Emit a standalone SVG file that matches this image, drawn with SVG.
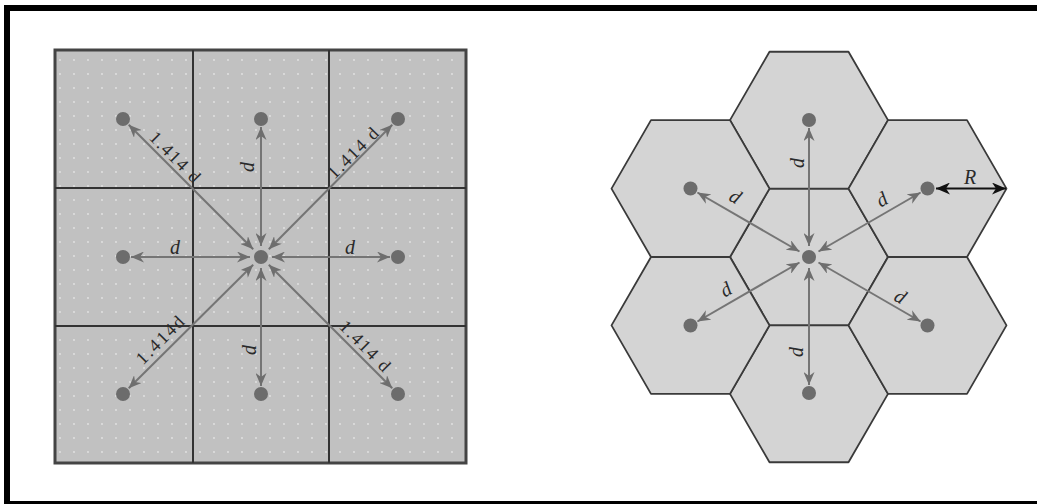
<svg xmlns="http://www.w3.org/2000/svg" width="1037" height="504" viewBox="0 0 1037 504">
<style>
.grid{fill:none;stroke:#333;stroke-width:2}
.hex{fill:#d4d4d4;stroke:#3a3a3a;stroke-width:1.8;stroke-linejoin:round}
.dot{fill:#6c6c6c}
.ar{stroke:#757575;stroke-width:2;fill:none;marker-start:url(#ah);marker-end:url(#ah)}
.lbl{font-family:"Liberation Serif",serif;font-size:18px;fill:#2a2a2a;text-anchor:middle}
.it{font-style:italic;font-size:20px}
</style>
<defs>
<marker id="ah" markerUnits="userSpaceOnUse" markerWidth="14" markerHeight="11" refX="13" refY="5.5" orient="auto-start-reverse" viewBox="0 0 14 11">
<path d="M0,0 L13,5.5 L0,11 L4,5.5 z" fill="#6e6e6e"/>
</marker>
<marker id="ahk" markerUnits="userSpaceOnUse" markerWidth="15" markerHeight="12" refX="14" refY="6" orient="auto-start-reverse" viewBox="0 0 15 12">
<path d="M0,0 L14,6 L0,12 L4,6 z" fill="#111"/>
</marker>
<pattern id="dots" width="14" height="14" patternUnits="userSpaceOnUse">
<rect width="14" height="14" fill="#c1c1c1"/>
<circle cx="4" cy="4" r="0.9" fill="#e4e4e4"/>
</pattern>
<polygon id="hexshape" points="79,0 39.5,68.42 -39.5,68.42 -79,0 -39.5,-68.42 39.5,-68.42"/>
</defs>
<rect x="7" y="8" width="1080" height="496" fill="#fff" stroke="#000" stroke-width="6"/>

<g id="square-grid">
<rect x="55" y="50" width="411" height="413" fill="url(#dots)" stroke="#444" stroke-width="3"/>
<line class="grid" x1="193" y1="50" x2="193" y2="463"/>
<line class="grid" x1="329" y1="50" x2="329" y2="463"/>
<line class="grid" x1="55" y1="188" x2="466" y2="188"/>
<line class="grid" x1="55" y1="326" x2="466" y2="326"/>
</g>
<g id="sq-dots">
<circle id="sq-tl" class="dot" cx="123" cy="119" r="7"/>
<circle id="sq-t" class="dot" cx="261" cy="119" r="7"/>
<circle id="sq-tr" class="dot" cx="398" cy="119" r="7"/>
<circle id="sq-l" class="dot" cx="123" cy="257" r="7"/>
<circle id="sq-c" class="dot" cx="261" cy="257" r="7"/>
<circle id="sq-r" class="dot" cx="398" cy="257" r="7"/>
<circle id="sq-bl" class="dot" cx="123" cy="394" r="7"/>
<circle id="sq-b" class="dot" cx="261" cy="394" r="7"/>
<circle id="sq-br" class="dot" cx="398" cy="394" r="7"/>
</g>

<g id="hex-cells">
<g id="hex-c"><use href="#hexshape" class="hex" x="809" y="257"/><circle class="dot" cx="809" cy="257" r="7"/></g>
<g id="hex-t"><use href="#hexshape" class="hex" x="809" y="120.16"/><circle class="dot" cx="809" cy="120" r="7"/></g>
<g id="hex-b"><use href="#hexshape" class="hex" x="809" y="393.84"/><circle class="dot" cx="809" cy="393" r="7"/></g>
<g id="hex-ul"><use href="#hexshape" class="hex" x="690.5" y="188.58"/><circle class="dot" cx="690.5" cy="188.5" r="7"/></g>
<g id="hex-ur"><use href="#hexshape" class="hex" x="927.5" y="188.58"/><circle class="dot" cx="927.5" cy="188.5" r="7"/></g>
<g id="hex-ll"><use href="#hexshape" class="hex" x="690.5" y="325.42"/><circle class="dot" cx="690.5" cy="325.5" r="7"/></g>
<g id="hex-lr"><use href="#hexshape" class="hex" x="927.5" y="325.42"/><circle class="dot" cx="927.5" cy="325.5" r="7"/></g>
</g>

<g id="connectors">
<line class="ar" x1="253.2" y1="249.2" x2="128.7" y2="124.7"/>
<line class="ar" x1="261" y1="246" x2="261" y2="127"/>
<line class="ar" x1="268.8" y1="249.2" x2="392.3" y2="124.7"/>
<line class="ar" x1="250" y1="257" x2="131" y2="257"/>
<line class="ar" x1="272" y1="257" x2="390" y2="257"/>
<line class="ar" x1="253.2" y1="264.8" x2="128.7" y2="388.3"/>
<line class="ar" x1="261" y1="268" x2="261" y2="386"/>
<line class="ar" x1="268.8" y1="264.8" x2="392.3" y2="388.3"/>

<line class="ar" x1="799.5" y1="251.5" x2="697.4" y2="192.5"/>
<line class="ar" x1="818.5" y1="251.5" x2="920.6" y2="192.5"/>
<line class="ar" x1="799.5" y1="262.5" x2="697.4" y2="321.5"/>
<line class="ar" x1="818.5" y1="262.5" x2="920.6" y2="321.5"/>
<line class="ar" x1="809" y1="246" x2="809" y2="128"/>
<line class="ar" x1="809" y1="268" x2="809" y2="385"/>
<line x1="936" y1="188.5" x2="1006" y2="188.5" stroke="#111" stroke-width="2.2" marker-start="url(#ahk)" marker-end="url(#ahk)"/>
</g>

<g id="labels">
<text class="lbl" transform="translate(175,157) rotate(45)" y="6" textLength="64" lengthAdjust="spacing">1.414 d</text>
<text class="lbl" transform="translate(353,153) rotate(-45)" y="6" textLength="64" lengthAdjust="spacing">1.414 d</text>
<text class="lbl" transform="translate(160,340) rotate(-45)" y="6" textLength="60" lengthAdjust="spacing">1.414d</text>
<text class="lbl" transform="translate(365,346) rotate(45)" y="6" textLength="64" lengthAdjust="spacing">1.414 d</text>
<text class="lbl it" x="175" y="254">d</text>
<text class="lbl it" x="350" y="254">d</text>
<text class="lbl it" transform="translate(248,167) rotate(-90)" y="6">d</text>
<text class="lbl it" transform="translate(250,350) rotate(-90)" y="6">d</text>

<text class="lbl it" transform="translate(798,163) rotate(-90)" y="6">d</text>
<text class="lbl it" transform="translate(797,352) rotate(-90)" y="6">d</text>
<text class="lbl it" transform="translate(735,197) rotate(30)" y="6">d</text>
<text class="lbl it" transform="translate(882,200) rotate(-30)" y="6">d</text>
<text class="lbl it" transform="translate(726,290) rotate(-30)" y="6">d</text>
<text class="lbl it" transform="translate(900,297) rotate(30)" y="6">d</text>
<text class="lbl it" x="970" y="184">R</text>
</g>
</svg>
